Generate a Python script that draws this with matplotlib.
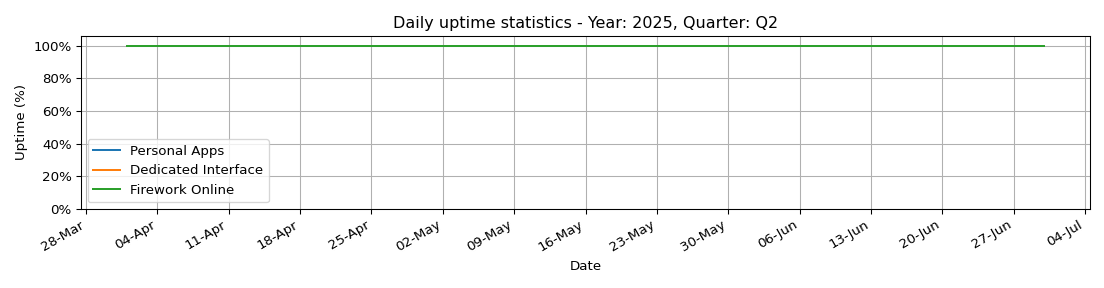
import matplotlib
matplotlib.use("Agg")
import matplotlib.pyplot as plt
import matplotlib.dates as mdates
from matplotlib.ticker import PercentFormatter
import pandas as pd

dates = pd.date_range("2025-04-01", "2025-06-30", freq="D")
personal_apps = [100.0] * len(dates)
dedicated_interface = [100.0] * len(dates)
firework_online = [100.0] * len(dates)
series_names = ["Personal Apps", "Dedicated Interface", "Firework Online"]

fig, ax = plt.subplots(figsize=(11.5, 3.0), dpi=96)
for name, vals in zip(series_names, [personal_apps, dedicated_interface, firework_online]):
    ax.plot(dates, vals, label=name)

ax.set_ylim(0, 106)
ax.yaxis.set_major_formatter(PercentFormatter(100, decimals=0))
ax.xaxis.set_major_locator(mdates.WeekdayLocator(byweekday=mdates.FR))
ax.xaxis.set_major_formatter(mdates.DateFormatter("%d-%b"))
ax.set_title("Daily uptime statistics - Year: 2025, Quarter: Q2")
ax.set_xlabel("Date")
ax.set_ylabel("Uptime (%)")
ax.grid(True)
ax.legend(loc="lower left")
fig.autofmt_xdate()
fig.subplots_adjust(left=81 / 1104, right=1090 / 1104, top=1 - 36 / 288, bottom=1 - 209 / 288)
fig.savefig("out.png", dpi=96)
